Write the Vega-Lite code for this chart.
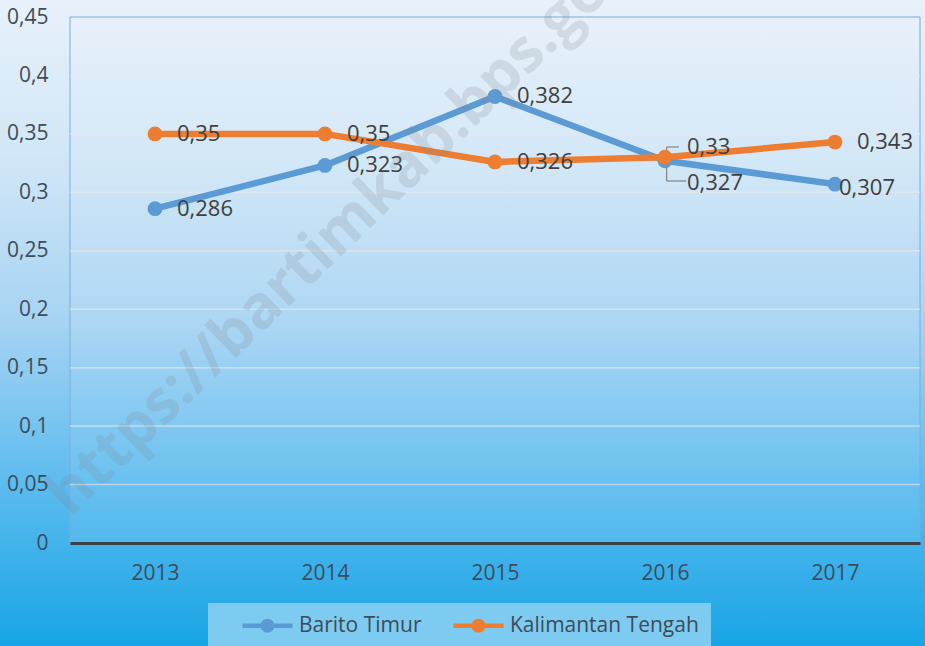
{
  "$schema": "https://vega.github.io/schema/vega-lite/v6.json",
  "width": 850,
  "height": 526,
  "autosize": {"type": "none"},
  "padding": {"left": 70, "top": 17, "right": 5, "bottom": 103},
  "background": "#1aa6e5",
  "config": {
    "view": {"stroke": null},
    "font": "Open Sans",
    "locale": {"number": {"decimal": ",", "thousands": ".", "grouping": [3], "currency": ["", ""]}}
  },
  "datasets": {
    "series": [
      {"year": 2013, "series": "Barito Timur", "value": 0.286},
      {"year": 2014, "series": "Barito Timur", "value": 0.323},
      {"year": 2015, "series": "Barito Timur", "value": 0.382},
      {"year": 2016, "series": "Barito Timur", "value": 0.327},
      {"year": 2017, "series": "Barito Timur", "value": 0.307},
      {"year": 2013, "series": "Kalimantan Tengah", "value": 0.35},
      {"year": 2014, "series": "Kalimantan Tengah", "value": 0.35},
      {"year": 2015, "series": "Kalimantan Tengah", "value": 0.326},
      {"year": 2016, "series": "Kalimantan Tengah", "value": 0.33},
      {"year": 2017, "series": "Kalimantan Tengah", "value": 0.343}
    ],
    "grid": [
      {"v": 0.05}, {"v": 0.1}, {"v": 0.15}, {"v": 0.2}, {"v": 0.25},
      {"v": 0.3}, {"v": 0.35}, {"v": 0.4}
    ],
    "one": [{}]
  },
  "layer": [
    {
      "data": {"name": "one"},
      "mark": {
        "type": "rect",
        "fill": {
          "gradient": "linear", "x1": 0, "y1": 0, "x2": 0, "y2": 1,
          "stops": [
            {"offset": 0, "color": "#e8f1fb"},
            {"offset": 0.25, "color": "#d0e6f7"},
            {"offset": 0.5, "color": "#a6d3f3"},
            {"offset": 0.75, "color": "#5cbbef"},
            {"offset": 1, "color": "#18a5e5"}
          ]
        }
      },
      "encoding": {
        "x": {
          "datum": 2012.0882, "type": "quantitative",
          "scale": {"domain": [2012.5, 2017.5], "nice": false, "zero": false},
          "axis": {
            "values": [2013, 2014, 2015, 2016, 2017], "format": "d", "title": null,
            "grid": false, "ticks": false, "domain": true, "domainColor": "#3b4046",
            "domainWidth": 3, "labelPadding": 19, "labelFontSize": 21,
            "labelColor": "#3e4c5a", "labelFont": "Open Sans", "zindex": 1
          }
        },
        "x2": {"datum": 2017.5294},
        "y": {
          "datum": 0.46454, "type": "quantitative",
          "scale": {"domain": [0, 0.45], "nice": false, "zero": false},
          "axis": {
            "values": [0, 0.05, 0.1, 0.15, 0.2, 0.25, 0.3, 0.35, 0.4, 0.45],
            "format": "~g", "title": null, "grid": false, "ticks": false,
            "domain": false, "labelPadding": 22, "labelFontSize": 21,
            "labelColor": "#3e4c5a", "labelFont": "Open Sans", "zindex": 1
          }
        },
        "y2": {"datum": -0.08812}
      }
    },
    {
      "data": {"name": "one"},
      "mark": {"type": "rect", "fill": "#ffffff", "fillOpacity": 0.08, "stroke": "#78acdf", "strokeWidth": 1},
      "encoding": {
        "x": {"datum": 2012.5, "type": "quantitative"},
        "x2": {"datum": 2017.5},
        "y": {"datum": 0.45, "type": "quantitative"},
        "y2": {"datum": 0}
      }
    },
    {
      "data": {"name": "grid"},
      "mark": {"type": "rule", "stroke": "#e8e8e8", "strokeWidth": 1.5, "opacity": 0.65},
      "encoding": {
        "x": {"datum": 2012.5, "type": "quantitative"},
        "x2": {"datum": 2017.5},
        "y": {"field": "v", "type": "quantitative"}
      }
    },
    {
      "data": {"name": "one"},
      "mark": {"type": "rule", "stroke": "#6f6f6f", "strokeWidth": 1},
      "encoding": {
        "x": {"datum": 2016.01, "type": "quantitative"},
        "y": {"datum": 0.3388, "type": "quantitative"},
        "y2": {"datum": 0.3097}
      }
    },
    {
      "data": {"name": "one"},
      "mark": {"type": "rule", "stroke": "#6f6f6f", "strokeWidth": 1},
      "encoding": {
        "x": {"datum": 2016.01, "type": "quantitative"},
        "x2": {"datum": 2016.082},
        "y": {"datum": 0.3388, "type": "quantitative"}
      }
    },
    {
      "data": {"name": "one"},
      "mark": {"type": "rule", "stroke": "#6f6f6f", "strokeWidth": 1},
      "encoding": {
        "x": {"datum": 2016.01, "type": "quantitative"},
        "x2": {"datum": 2016.124},
        "y": {"datum": 0.3097, "type": "quantitative"}
      }
    },
    {
      "data": {"name": "series"},
      "mark": {"type": "line", "strokeWidth": 6.5, "strokeJoin": "round"},
      "encoding": {
        "x": {"field": "year", "type": "quantitative"},
        "y": {"field": "value", "type": "quantitative"},
        "color": {
          "field": "series", "type": "nominal",
          "scale": {"domain": ["Barito Timur", "Kalimantan Tengah"], "range": ["#5b9bd5", "#ed7d31"]}
        }
      }
    },
    {
      "data": {"name": "series"},
      "mark": {"type": "point", "filled": true, "size": 220, "opacity": 1},
      "encoding": {
        "x": {"field": "year", "type": "quantitative"},
        "y": {"field": "value", "type": "quantitative"},
        "color": {
          "field": "series", "type": "nominal",
          "scale": {"domain": ["Barito Timur", "Kalimantan Tengah"], "range": ["#5b9bd5", "#ed7d31"]},
          "legend": {
            "orient": "none", "legendX": 138, "legendY": 586, "direction": "horizontal",
            "title": null, "fillColor": "#7ecbf2", "padding": 12,
            "symbolType": "M-2.5,-0.22H2.5V0.22H-2.5Z M0.7,0A0.7,0.7 0 1,1 -0.7,0A0.7,0.7 0 1,1 0.7,0Z",
            "symbolSize": 400, "symbolStrokeWidth": 0, "symbolOffset": 37,
            "labelOffset": 21, "columnPadding": 9, "labelFontSize": 21, "labelLimit": 400,
            "labelColor": "#3e4a56", "labelFont": "Open Sans"
          }
        }
      }
    },
    {
      "data": {"name": "series"},
      "transform": [{"filter": "datum.year != 2016 && !(datum.year == 2017 && datum.series == 'Barito Timur')"}],
      "mark": {"type": "text", "align": "left", "baseline": "middle", "dx": 22, "fontSize": 22, "color": "#404040", "font": "Open Sans"},
      "encoding": {
        "x": {"field": "year", "type": "quantitative"},
        "y": {"field": "value", "type": "quantitative"},
        "text": {"field": "value", "type": "quantitative", "format": "~g"}
      }
    },
    {
      "data": {"name": "series"},
      "transform": [{"filter": "datum.year == 2016 && datum.series == 'Kalimantan Tengah'"}],
      "mark": {"type": "text", "align": "left", "baseline": "middle", "dx": 22, "dy": -10, "fontSize": 22, "color": "#404040", "font": "Open Sans"},
      "encoding": {
        "x": {"field": "year", "type": "quantitative"},
        "y": {"field": "value", "type": "quantitative"},
        "text": {"field": "value", "type": "quantitative", "format": "~g"}
      }
    },
    {
      "data": {"name": "series"},
      "transform": [{"filter": "datum.year == 2016 && datum.series == 'Barito Timur'"}],
      "mark": {"type": "text", "align": "left", "baseline": "middle", "dx": 22, "dy": 22, "fontSize": 22, "color": "#404040", "font": "Open Sans"},
      "encoding": {
        "x": {"field": "year", "type": "quantitative"},
        "y": {"field": "value", "type": "quantitative"},
        "text": {"field": "value", "type": "quantitative", "format": "~g"}
      }
    },
    {
      "data": {"name": "series"},
      "transform": [{"filter": "datum.year == 2017 && datum.series == 'Barito Timur'"}],
      "mark": {"type": "text", "align": "left", "baseline": "middle", "dx": 4, "dy": 4, "fontSize": 22, "color": "#404040", "font": "Open Sans"},
      "encoding": {
        "x": {"field": "year", "type": "quantitative"},
        "y": {"field": "value", "type": "quantitative"},
        "text": {"field": "value", "type": "quantitative", "format": "~g"}
      }
    },
    {
      "data": {"name": "one"},
      "mark": {
        "type": "text", "text": "https://bartimkab.bps.go.id", "angle": 316,
        "align": "left", "baseline": "alphabetic", "fontSize": 60, "fontWeight": "bold",
        "fill": "#7f8790", "opacity": 0.2, "font": "Open Sans"
      },
      "encoding": {
        "x": {"datum": 2012.5, "type": "quantitative"},
        "y": {"datum": 0.0214, "type": "quantitative"}
      }
    }
  ]
}
